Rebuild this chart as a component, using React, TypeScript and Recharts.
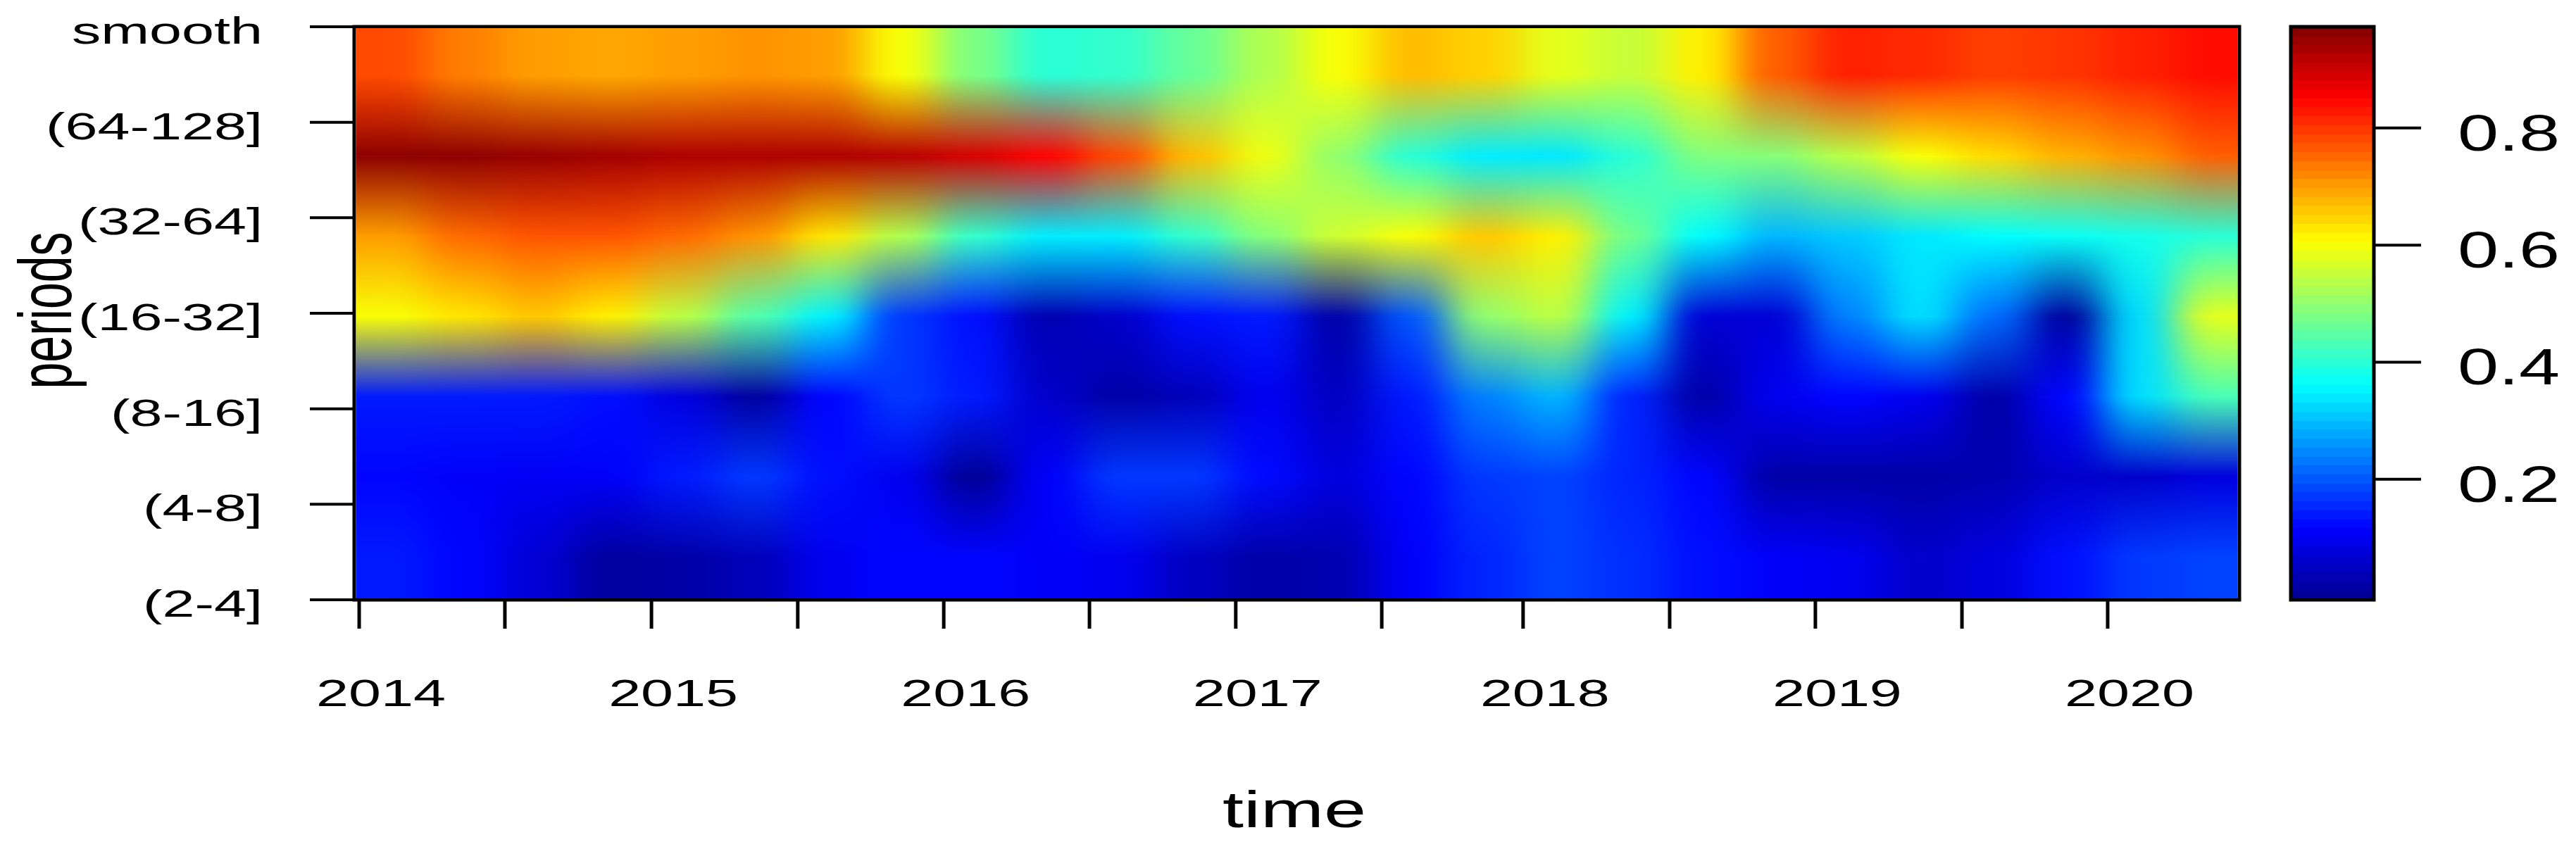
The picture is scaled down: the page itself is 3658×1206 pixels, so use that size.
import { Bar, BarChart, Label, ReferenceArea, Scatter, ScatterChart, XAxis, YAxis } from 'recharts';

// centre of each sampled column, in years
const timeColumns = [
  2014.11, 2014.36, 2014.61, 2014.86, 2015.11, 2015.36, 2015.61, 2015.86, 2016.11,
  2016.36, 2016.61, 2016.86, 2017.11, 2017.36, 2017.61, 2017.86, 2018.11, 2018.36,
  2018.61, 2018.86, 2019.11, 2019.36, 2019.61, 2019.86, 2020.11, 2020.36,
];

// wavelet power per band
const smoothPower = [.78, .73, .70, .69, .70, .71, .70, .60, .48, .40, .41, .46, .53, .60, .67, .65, .58, .55, .62, .76, .82, .81, .79, .80, .82, .84];
const band64Power = [.96, .96, .95, .94, .93, .93, .93, .92, .89, .85, .78, .67, .59, .50, .40, .345, .34, .40, .485, .49, .54, .60, .64, .68, .71, .76];
const band32Power = [.70, .75, .77, .77, .75, .71, .63, .53, .41, .345, .345, .41, .49, .56, .60, .66, .62, .47, .36, .29, .31, .34, .36, .37, .38, .40];
const band16Power = [.60, .63, .66, .62, .54, .44, .35, .17, .13, .03, .06, .13, .14, .02, .20, .50, .54, .35, .07, .07, .24, .33, .22, .01, .33, .58];
const band8Power = [.14, .14, .14, .13, .08, .01, .12, .17, .14, .06, .02, .04, .10, .05, .14, .24, .29, .15, .02, .10, .12, .10, .02, .12, .33, .43];
const band4Power = [.12, .11, .105, .11, .14, .17, .13, .10, .00, .11, .17, .17, .125, .08, .12, .17, .18, .15, .12, .02, .02, .02, .03, .06, .06, .08];
const band2Power = [.14, .12, .07, .01, .02, .04, .10, .12, .12, .11, .10, .05, .02, .03, .11, .15, .18, .16, .13, .11, .10, .06, .08, .13, .17, .18];

const bands = [smoothPower, band64Power, band32Power, band16Power, band8Power, band4Power, band2Power];
// where each band sits on the period axis, top to bottom
const bandLevels = [5.49, 4.65, 3.81, 2.97, 2.13, 1.29, 0.45];

const periodTicks = [0, 1, 2, 3, 4, 5, 6];
const periodLabels = ['(2-4]', '(4-8]', '(8-16]', '(16-32]', '(32-64]', '(64-128]', 'smooth'];
const timeTicks = [
  2014, 2014.5, 2015.003, 2015.505, 2016.006, 2016.506, 2017.008, 2017.509,
  2017.994, 2018.497, 2018.997, 2019.5, 2020,
];
const timeLabels = ['2014', '', '2015', '', '2016', '', '2017', '', '2018', '', '2019', '', '2020'];
const powerTicks = [0.2, 0.4, 0.6, 0.8];

const FONT = '"Liberation Sans", Arial, sans-serif';
const BAND_GAP = 114;
const CELL_W = 104.5;
const POWER_MIN = -0.006;
const POWER_MAX = 0.973;
const JET = ['#00008f', '#0000ff', '#00ffff', '#ffff00', '#ff0000', '#800000'];
const JET_AT = [0, 0.125, 0.375, 0.625, 0.875, 1];

function jet(t: number) {
  const c = Math.min(1, Math.max(0, t));
  let i = 0;
  while (i < 4 && c > JET_AT[i + 1]) i++;
  const f = (c - JET_AT[i]) / (JET_AT[i + 1] - JET_AT[i]);
  const a = JET[i], b = JET[i + 1];
  const part = (k: number) => {
    const p = parseInt(a.slice(k, k + 2), 16);
    const q = parseInt(b.slice(k, k + 2), 16);
    return Math.round(p + (q - p) * f);
  };
  return `rgb(${part(1)},${part(3)},${part(5)})`;
}

const powerColor = (v: number) => jet((v - POWER_MIN) / (POWER_MAX - POWER_MIN));

const cells = bands.flatMap((row, r) =>
  row.map((power, c) => ({
    t: timeColumns[c],
    level: bandLevels[r],
    power,
    next: r < bands.length - 1 ? bands[r + 1][c] : power,
    r,
    c,
  })),
);

// one cell: a vertical fade from this band to the next one
const PowerCell = ({ cx, cy, payload }: any) => {
  const { r, c, power, next } = payload;
  const id = `cell-${r}-${c}`;
  const left = cx - CELL_W / 2 - (c === 0 ? 200 : 0);
  const width = CELL_W + (c === 0 || c === timeColumns.length - 1 ? 200 : 0);
  return (
    <g>
      <defs>
        <linearGradient id={id} x1="0" y1="0" x2="0" y2="1">
          <stop offset="0" stopColor={powerColor(power)} />
          <stop offset="1" stopColor={powerColor(next)} />
        </linearGradient>
      </defs>
      {r === 0 && <rect x={left} y={cy - 80} width={width} height={81} fill={powerColor(power)} />}
      {r === bands.length - 1 ? (
        <rect x={left} y={cy} width={width} height={70} fill={powerColor(power)} />
      ) : (
        <rect x={left} y={cy} width={width} height={BAND_GAP + 0.5} fill={`url(#${id})`} />
      )}
    </g>
  );
};

const PeriodTick = ({ y, payload }: any) => (
  <text
    transform={`translate(373 ${y + 24}) scale(1.56 1)`}
    textAnchor="end"
    fontSize={53}
    fontFamily={FONT}
    fill="#000"
  >
    {periodLabels[payload.value]}
  </text>
);

const TimeTick = ({ x, payload, index }: any) => (
  <text
    transform={`translate(${x + 31} 1003) scale(1.56 1)`}
    textAnchor="middle"
    fontSize={53}
    fontFamily={FONT}
    fill="#000"
  >
    {timeLabels[index ?? timeTicks.indexOf(payload.value)]}
  </text>
);

// the colour bar chart starts at x = 3233
const PowerTick = ({ y, payload }: any) => (
  <text
    transform={`translate(257 ${y + 32}) scale(1.45 1)`}
    textAnchor="start"
    fontSize={72}
    fontFamily={FONT}
    fill="#000"
  >
    {payload.value.toFixed(1)}
  </text>
);

const PeriodsTitle = () => (
  <text
    transform="translate(101 441) scale(1.55 1) rotate(-90)"
    textAnchor="middle"
    fontSize={68}
    fontFamily={FONT}
    fill="#000"
  >
    periods
  </text>
);

const TimeTitle = () => (
  <text
    transform="translate(1838 1175) scale(1.5 1)"
    textAnchor="middle"
    fontSize={72}
    fontFamily={FONT}
    fill="#000"
  >
    time
  </text>
);

const scaleStops = Array.from({ length: 64 }, (_, i) => i);

export default function App() {
  return (
    <div style={{ position: 'absolute', left: 0, top: 0, width: 3658, height: 1206, background: '#fff' }}>
      <style>{`.power-map .recharts-scatter { filter: url(#cellBlur); clip-path: url(#plotClip); }`}</style>
      <div className="power-map" style={{ position: 'absolute', left: 0, top: 0 }}>
        <ScatterChart width={3658} height={1206} margin={{ top: 38, right: 478, bottom: 0, left: 0 }}>
          <defs>
            <filter
              id="cellBlur"
              filterUnits="userSpaceOnUse"
              x={0}
              y={0}
              width={3658}
              height={1206}
              colorInterpolationFilters="sRGB"
            >
              <feGaussianBlur stdDeviation="28 0" />
            </filter>
            <clipPath id="plotClip">
              <rect x={505.5} y={40} width={2672} height={810} />
            </clipPath>
          </defs>
          <XAxis
            type="number"
            dataKey="t"
            domain={[2013.983, 2020.452]}
            ticks={timeTicks}
            interval={0}
            height={354}
            axisLine={false}
            tickSize={41}
            tickLine={{ stroke: '#000', strokeWidth: 5 }}
            tick={<TimeTick />}
          >
            <Label content={<TimeTitle />} />
          </XAxis>
          <YAxis
            type="number"
            dataKey="level"
            domain={[0, 6]}
            ticks={periodTicks}
            interval={0}
            width={503}
            axisLine={false}
            tickSize={63}
            tickLine={{ stroke: '#000', strokeWidth: 4 }}
            tick={<PeriodTick />}
          >
            <Label content={<PeriodsTitle />} />
          </YAxis>
          <Scatter data={cells} shape={<PowerCell />} isAnimationActive={false} />
          <ReferenceArea
            x1={2013.983}
            x2={2020.452}
            y1={0}
            y2={6}
            fill="none"
            stroke="#000"
            strokeWidth={5}
            ifOverflow="visible"
          />
        </ScatterChart>
      </div>
      <div style={{ position: 'absolute', left: 3233, top: 0 }}>
        <BarChart
          width={425}
          height={1206}
          data={[{ name: 'power', range: [POWER_MIN, POWER_MAX] }]}
          margin={{ top: 38, right: 0, bottom: 354, left: 20 }}
          barCategoryGap={0}
        >
          <defs>
            <linearGradient id="powerScale" x1="0" y1="1" x2="0" y2="0">
              {scaleStops.flatMap((i) => [
                <stop key={`a${i}`} offset={i / 64} stopColor={jet((i + 0.5) / 64)} />,
                <stop key={`b${i}`} offset={(i + 1) / 64} stopColor={jet((i + 0.5) / 64)} />,
              ])}
            </linearGradient>
          </defs>
          <XAxis dataKey="name" hide />
          <YAxis
            orientation="right"
            type="number"
            domain={[POWER_MIN, POWER_MAX]}
            ticks={powerTicks}
            interval={0}
            width={287}
            axisLine={false}
            tickSize={67}
            tickLine={{ stroke: '#000', strokeWidth: 4 }}
            tick={<PowerTick />}
          />
          <Bar dataKey="range" fill="url(#powerScale)" stroke="#000" strokeWidth={5} isAnimationActive={false} />
        </BarChart>
      </div>
    </div>
  );
}
